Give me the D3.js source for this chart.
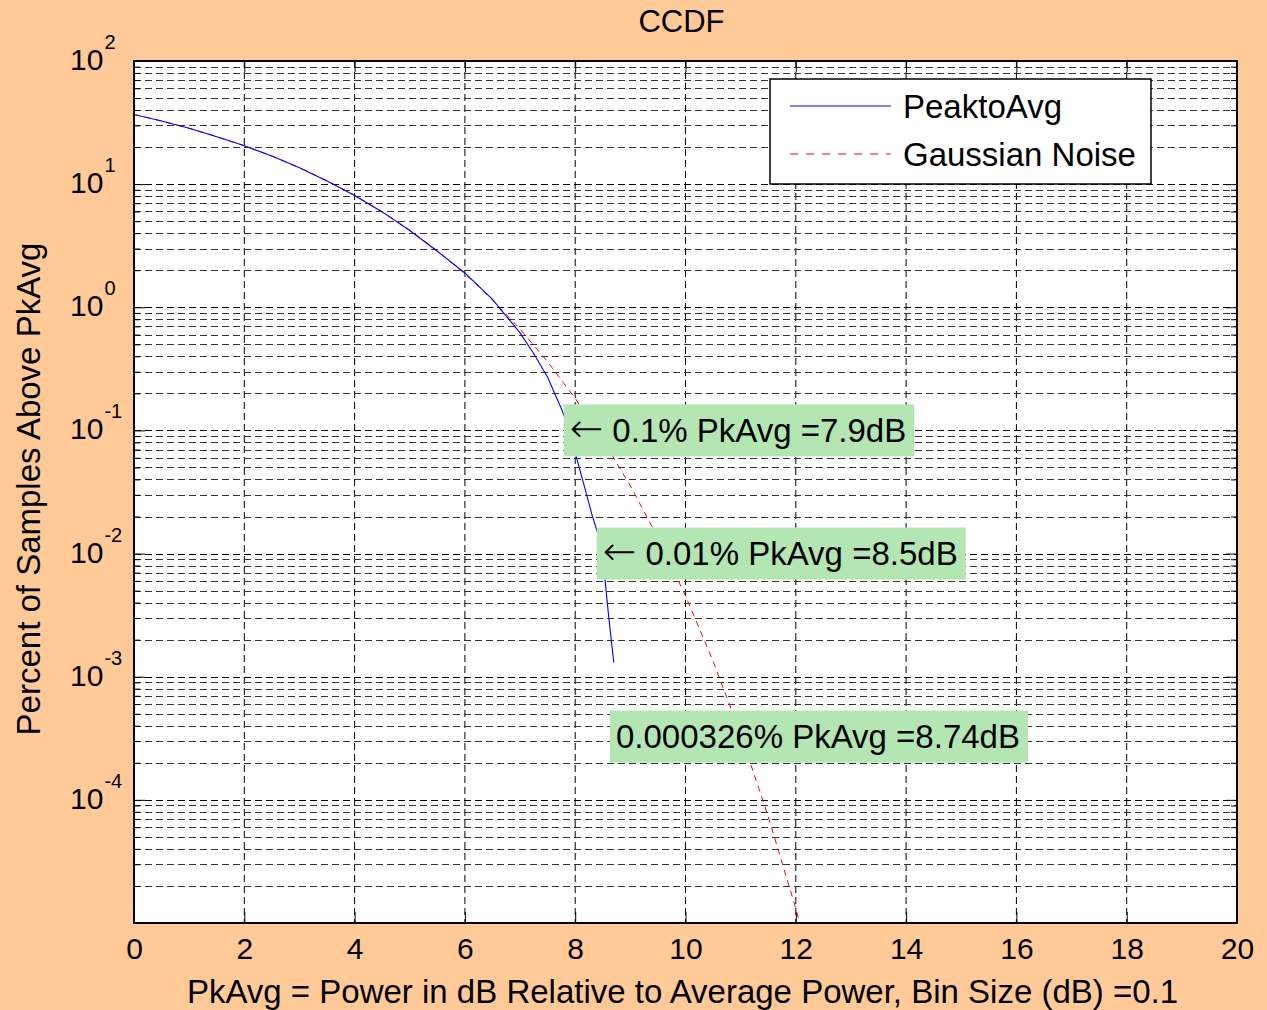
<!DOCTYPE html>
<html>
<head>
<meta charset="utf-8">
<script src="https://cdn.jsdelivr.net/npm/d3@7"></script>
<style>
  body { margin: 0; background: #FFCA98; }
  text { font-family: "Liberation Sans", Arial, sans-serif; fill: #000; }
</style>
</head>
<body>
<div id="chart"></div>
<script>
// x ticks (dB) and y decades (percent, log scale)
var xTicks = [0, 2, 4, 6, 8, 10, 12, 14, 16, 18, 20];
var yDecades = [2, 1, 0, -1, -2, -3, -4];

// PeaktoAvg measured CCDF (dB, percent)
var pkX = [0, 0.5, 1, 1.5, 2, 2.5, 3, 3.5, 4, 4.5, 5, 5.5, 6, 6.5, 7, 7.25, 7.5, 7.75, 7.9, 8.0, 8.1, 8.2, 8.3, 8.4, 8.5, 8.6, 8.7];
var pkY = [36.8, 32.6, 28.4, 24.3, 20.5, 16.9, 13.6, 10.6, 8.1, 5.95, 4.2, 2.85, 1.9, 1.16, 0.62, 0.42, 0.27, 0.15, 0.1, 0.066, 0.045, 0.031, 0.021, 0.015, 0.0095, 0.0033, 0.0013];

// Gaussian noise reference CCDF (dB, percent)
var gnX = [0, 0.5, 1, 1.5, 2, 2.5, 3, 3.5, 4, 4.5, 5, 5.5, 6, 6.5, 7, 7.5, 8, 8.5, 9, 9.5, 10, 10.5, 11, 11.5, 12, 12.07];
var gnY = [36.8, 32.6, 28.4, 24.35, 20.5, 16.9, 13.6, 10.66, 8.11, 5.97, 4.23, 2.88, 1.87, 1.15, 0.666, 0.361, 0.182, 0.0842, 0.0355, 0.01346, 0.00454, 0.00134, 0.000341, 0.0000733, 0.0000131, 0.00001];

// annotations
var annX = [7.9, 8.5, 8.74];
var annY = [0.1, 0.01, 0.000326];
var annText = ["\u2190 0.1% PkAvg =7.9dB", "\u2190 0.01% PkAvg =8.5dB", "0.000326% PkAvg =8.74dB"];

var legendLabels = ["PeaktoAvg", "Gaussian Noise"];

var svgWidth = 1267;
var svgHeight = 1010;

var margin = { top: 61, right: 30, bottom: 87, left: 134 };
var width = svgWidth - margin.left - margin.right;
var height = svgHeight - margin.top - margin.bottom;

var svg = d3.select("#chart")
  .append("svg")
  .attr("width", svgWidth)
  .attr("height", svgHeight);

svg.append("rect")
  .attr("width", svgWidth)
  .attr("height", svgHeight)
  .attr("fill", "#FFCA98");

var chartGroup = svg.append("g")
  .attr("transform", `translate(${margin.left}, ${margin.top})`);

var xScale = d3.scaleLinear().domain([0, 20]).range([0, width]);
var yScale = d3.scaleLog().domain([1e-5, 1e2]).range([height, 0]);

// tick values for the log axis
var majorY = [];
var minorY = [];
for (var d = -5; d <= 2; d++) {
  majorY.push(Math.pow(10, d));
  if (d < 2) {
    for (var k = 2; k <= 9; k++) minorY.push(k * Math.pow(10, d));
  }
}

// plot background
chartGroup.append("rect")
  .attr("width", width)
  .attr("height", height)
  .attr("fill", "#fff");

// grid lines
var grid = chartGroup.append("g");
grid.selectAll(".vgrid")
  .data(xTicks.filter(v => v > 0 && v < 20))
  .enter()
  .append("line")
  .attr("x1", d => xScale(d)).attr("x2", d => xScale(d))
  .attr("y1", 0).attr("y2", height)
  .attr("stroke", "#000")
  .attr("stroke-width", 1)
  .attr("stroke-dasharray", "7,4");

grid.selectAll(".hminor")
  .data(minorY)
  .enter()
  .append("line")
  .attr("x1", 0).attr("x2", width)
  .attr("y1", d => Math.round(yScale(d)) + 0.5).attr("y2", d => Math.round(yScale(d)) + 0.5)
  .attr("stroke", "#333")
  .attr("stroke-width", 1)
  .attr("stroke-dasharray", "7,4");

grid.selectAll(".hmajor")
  .data(majorY.filter(v => v > 1e-5 && v < 1e2))
  .enter()
  .append("line")
  .attr("x1", 0).attr("x2", width)
  .attr("y1", d => Math.round(yScale(d)) + 0.5).attr("y2", d => Math.round(yScale(d)) + 0.5)
  .attr("stroke", "#000")
  .attr("stroke-width", 1)
  .attr("stroke-dasharray", "7,4");

// inward ticks on all four sides
function tickAxis(axis, tf) {
  var g = chartGroup.append("g").attr("transform", tf).call(axis);
  g.select(".domain").remove();
  g.selectAll("line").attr("stroke", "#000");
  return g;
}

var xAxisG = tickAxis(d3.axisBottom(xScale).tickValues(xTicks).tickSizeInner(-11).tickSizeOuter(0).tickPadding(15), `translate(0, ${height})`);
xAxisG.selectAll("text")
  .style("font-size", "30px")
  .style("font-family", "'Liberation Sans', Arial, sans-serif");

tickAxis(d3.axisTop(xScale).tickValues(xTicks).tickSizeInner(-11).tickSizeOuter(0).tickFormat(""), "translate(0,0)");
tickAxis(d3.axisLeft(yScale).tickValues(majorY).tickSizeInner(-11).tickSizeOuter(0).tickFormat(""), "translate(0,0)");
tickAxis(d3.axisLeft(yScale).tickValues(minorY).tickSizeInner(-6).tickSizeOuter(0).tickFormat(""), "translate(0,0)");
tickAxis(d3.axisRight(yScale).tickValues(majorY).tickSizeInner(-11).tickSizeOuter(0).tickFormat(""), `translate(${width},0)`);
tickAxis(d3.axisRight(yScale).tickValues(minorY).tickSizeInner(-6).tickSizeOuter(0).tickFormat(""), `translate(${width},0)`);

// y tick labels 10^n
var yLab = chartGroup.selectAll(".ylab")
  .data(yDecades)
  .enter()
  .append("text")
  .attr("x", 70 - margin.left)
  .attr("y", d => yScale(Math.pow(10, d)) + 9)
  .style("font-size", "30px");
yLab.append("tspan").text("10");
yLab.append("tspan")
  .attr("dy", -21)
  .attr("dx", 1)
  .style("font-size", "20px")
  .text(d => d);

// curves
chartGroup.append("clipPath").attr("id", "clip")
  .append("rect").attr("width", width).attr("height", height);

var line = d3.line()
  .x(d => xScale(d[0]))
  .y(d => yScale(d[1]));

var curves = chartGroup.append("g").attr("clip-path", "url(#clip)");

curves.append("path")
  .datum(gnX.map((v, i) => [v, gnY[i]]))
  .attr("d", line)
  .attr("fill", "none")
  .attr("stroke", "#ff0000")
  .attr("stroke-width", 1)
  .attr("stroke-dasharray", "6,5");

curves.append("path")
  .datum(pkX.map((v, i) => [v, pkY[i]]))
  .attr("d", line)
  .attr("fill", "none")
  .attr("stroke", "#0000ff")
  .attr("stroke-width", 1.1);

// frame
chartGroup.append("rect")
  .attr("width", width)
  .attr("height", height)
  .attr("fill", "none")
  .attr("stroke", "#000")
  .attr("stroke-width", 2);

// annotations with green boxes
annX.forEach(function (v, i) {
  var g = chartGroup.append("g");
  var t = g.append("text")
    .attr("x", xScale(v))
    .attr("y", yScale(annY[i]))
    .attr("dy", "0.35em")
    .style("font-size", "33px");
  var label = annText[i];
  if (label.charAt(0) === "\u2190") {
    // long thin arrow like the original symbol font
    t.append("tspan")
      .style("font-family", "'DejaVu Sans', sans-serif")
      .style("font-size", "40px")
      .style("font-weight", "200")
      .text("\u2190");
    label = label.slice(1);
  }
  t.append("tspan").text(label);
  var bb = t.node().getBBox();
  g.insert("rect", "text")
    .attr("x", xScale(v) - 6)
    .attr("y", yScale(annY[i]) - 26)
    .attr("width", bb.x + bb.width - xScale(v) + 14)
    .attr("height", 52)
    .attr("fill", "#B3E6B3");
});

// legend
var legend = svg.append("g").attr("transform", "translate(770, 79)");
legend.append("rect")
  .attr("width", 381)
  .attr("height", 105)
  .attr("fill", "#fff")
  .attr("stroke", "#000")
  .attr("stroke-width", 1.5);

legendLabels.forEach(function (lab, i) {
  var ly = 27 + i * 48;
  legend.append("line")
    .attr("x1", 20).attr("x2", 121)
    .attr("y1", ly).attr("y2", ly)
    .attr("stroke", i === 0 ? "#0000ff" : "#ff0000")
    .attr("stroke-width", 1)
    .attr("stroke-dasharray", i === 0 ? null : "8,8");
  legend.append("text")
    .attr("x", 133)
    .attr("y", ly)
    .attr("dy", "0.35em")
    .style("font-size", "33px")
    .text(lab);
});

// title and axis labels
svg.append("text")
  .attr("x", margin.left + width / 2 - 4)
  .attr("y", 32)
  .attr("text-anchor", "middle")
  .style("font-size", "31px")
  .text("CCDF");

svg.append("text")
  .attr("x", margin.left + width / 2 - 3)
  .attr("y", 1003)
  .attr("text-anchor", "middle")
  .style("font-size", "33px")
  .text("PkAvg = Power in dB Relative to Average Power, Bin Size (dB) =0.1");

svg.append("text")
  .attr("transform", `translate(40, ${margin.top + height / 2 - 3}) rotate(-90)`)
  .attr("text-anchor", "middle")
  .style("font-size", "33px")
  .text("Percent of Samples Above PkAvg");
</script>
</body>
</html>
